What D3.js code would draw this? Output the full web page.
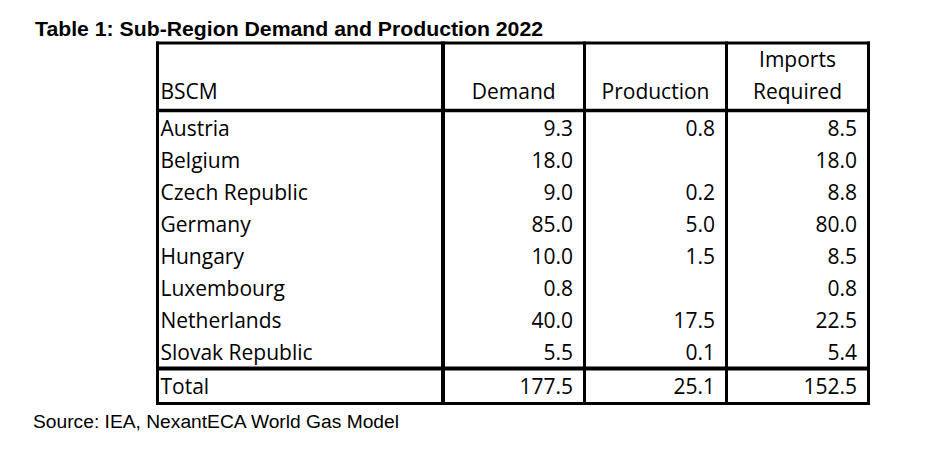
<!DOCTYPE html>
<html>
<head>
<meta charset="utf-8">
<script src="https://cdn.jsdelivr.net/npm/d3@7.9.0/dist/d3.min.js"></script>
<style>
  html, body { margin: 0; padding: 0; background: #fff; }
  svg { display: block; }
  .cell { font-family: "Open Sans", sans-serif; font-size: 21px; fill: #000; }
</style>
</head>
<body>
<svg id="chart" width="929" height="452"></svg>
<script>
const title = 'Table 1: Sub-Region Demand and Production 2022';
const source = 'Source: IEA, NexantECA World Gas Model';

const regions = ['Austria', 'Belgium', 'Czech Republic', 'Germany', 'Hungary',
  'Luxembourg', 'Netherlands', 'Slovak Republic'];
const demand = [9.3, 18.0, 9.0, 85.0, 10.0, 0.8, 40.0, 5.5];
const production = [0.8, null, 0.2, 5.0, 1.5, null, 17.5, 0.1];
const imports = [8.5, 18.0, 8.8, 80.0, 8.5, 0.8, 22.5, 5.4];
const totals = [177.5, 25.1, 152.5];

const headers = [['BSCM'], ['Demand'], ['Production'], ['Imports', 'Required']];

const svg = d3.select('#chart');
const fmt = d3.format('.1f');

// column edges (x) and row layout (y)
const colEdges = [157.5, 443, 584.5, 726.5, 868.5];
const colWidths = [3, 4, 3, 3, 3];
const tableTop = 43, headBottom = 110.5, totalLine = 368.5, tableBottom = 403.5;

const y = d3.scaleBand().domain(regions).range([112, 368]);

// title and source
svg.append('text')
  .attr('x', 35).attr('y', 36)
  .attr('textLength', 508).attr('lengthAdjust', 'spacingAndGlyphs')
  .style('font-family', 'Liberation Sans, Arial, sans-serif')
  .style('font-weight', 'bold').style('font-size', '19.5px')
  .text(title);

svg.append('text')
  .attr('x', 33).attr('y', 428)
  .attr('textLength', 366).attr('lengthAdjust', 'spacingAndGlyphs')
  .style('font-family', 'Liberation Sans, Arial, sans-serif')
  .style('font-size', '18px')
  .text(source);

// header
headers.forEach((lines, c) => {
  const cx = c === 0 ? colEdges[0] + 3 : (colEdges[c] + colEdges[c + 1]) / 2;
  lines.forEach((t, k) => {
    svg.append('text')
      .attr('class', 'cell')
      .attr('x', cx)
      .attr('y', 99 - (lines.length - 1 - k) * 32)
      .attr('text-anchor', c === 0 ? 'start' : 'middle')
      .text(t);
  });
});

// body rows
const series = [demand, production, imports];
regions.forEach((r, i) => {
  const base = y(r) + 24;
  svg.append('text').attr('class', 'cell')
    .attr('x', colEdges[0] + 3).attr('y', base).text(r);
  series.forEach((s, c) => {
    if (s[i] == null) return;
    svg.append('text').attr('class', 'cell')
      .attr('x', colEdges[c + 2] - 11.5).attr('y', base)
      .attr('text-anchor', 'end')
      .text(fmt(s[i]));
  });
});

// total row
svg.append('text').attr('class', 'cell')
  .attr('x', colEdges[0] + 3).attr('y', 394).text('Total');
totals.forEach((v, c) => {
  svg.append('text').attr('class', 'cell')
    .attr('x', colEdges[c + 2] - 11.5).attr('y', 394)
    .attr('text-anchor', 'end')
    .text(fmt(v));
});

// grid lines
const hLines = [[tableTop, 3], [headBottom, 3.5], [totalLine, 4], [tableBottom, 3]];
hLines.forEach(([yy, w]) => {
  svg.append('line')
    .attr('x1', colEdges[0] - 1.5).attr('x2', colEdges[4] + 1.5)
    .attr('y1', yy).attr('y2', yy)
    .attr('stroke', '#000').attr('stroke-width', w);
});
colEdges.forEach((xx, i) => {
  svg.append('line')
    .attr('x1', xx).attr('x2', xx)
    .attr('y1', tableTop - 1.5).attr('y2', tableBottom + 1.5)
    .attr('stroke', '#000').attr('stroke-width', colWidths[i]);
});
</script>
</body>
</html>
